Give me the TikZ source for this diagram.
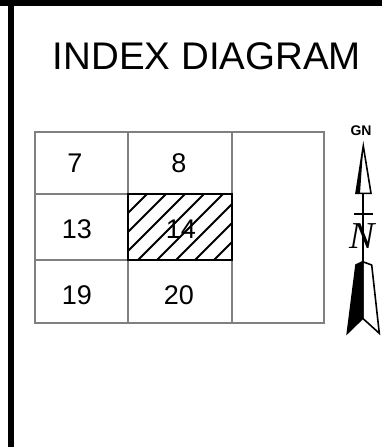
\documentclass[tikz,border=0pt]{standalone}
\usepackage{fontspec}
\setmainfont{Liberation Sans}
\newfontfamily\nserif{Liberation Serif}
\begin{document}
\begin{tikzpicture}[x=1pt,y=-1pt,
  gridline/.style={draw=black!50,line width=2pt},
  numlabel/.style={font=\fontsize{27}{27}\selectfont,anchor=base,inner sep=0pt},
  hatchline/.style={line width=1.8pt},
  arrowline/.style={line width=1.6pt,line join=miter}]
\useasboundingbox (0,0) rectangle (382,447);
\fill[white] (0,0) rectangle (382,447);
% frame bars
\fill[black] (0,0) rectangle (382,6);
\fill[black] (8,0) rectangle (14,447);
% title
\node[anchor=base,inner sep=0pt,font=\fontsize{38.5}{38.5}\selectfont] (title) at (207,69) {INDEX DIAGRAM};
% grid
\draw[gridline] (35,132) rectangle (324,323);
\draw[gridline] (128,132) -- (128,323);
\draw[gridline] (232,132) -- (232,323);
\draw[gridline] (35,194) -- (232,194);
\draw[gridline] (35,260) -- (232,260);
% hatched cell
\begin{scope}
\clip (128,194) rectangle (232,260);
\foreach \i in {-5,...,10}
  \draw[hatchline] (128+\i*19-66,260) -- ++(140,-140);
\end{scope}
\draw[line width=2.4pt] (128,194) rectangle (232,260);
% numbers
\node[numlabel] (n7) at (75,172) {7};
\node[numlabel] (n8) at (179,172) {8};
\node[numlabel] (n13) at (77,238) {13};
\node[numlabel] (n14) at (181,238) {14};
\node[numlabel] (n19) at (77,304) {19};
\node[numlabel] (n20) at (179,304) {20};
% north arrow
\node[anchor=base,inner sep=0pt,font=\bfseries\fontsize{14}{14}\selectfont] (gn) at (361,135.7) {GN};
\coordinate (tip) at (363.3,146);
\draw[line width=1.8pt] (363.3,193) -- (363.3,262);
\draw[arrowline,fill=white] (tip) -- (356,193.3) -- (371,193.3) -- cycle;
\fill (tip) -- (356,193.3) -- (360,193.3) -- cycle;
\draw[line width=1.6pt] (354,214) -- (373,214);
\node[inner sep=0pt,font=\nserif\itshape\fontsize{38}{38}\selectfont] (north) at (362,236) {N};
\draw[arrowline,fill=white] (362.7,261.7) -- (371.7,265) -- (379.3,333.3) -- (362.7,318.3) -- cycle;
\draw[arrowline,fill=black] (362.7,261.7) -- (356,265) -- (347.3,333.3) -- (362.7,318.3) -- cycle;
\end{tikzpicture}
\end{document}
